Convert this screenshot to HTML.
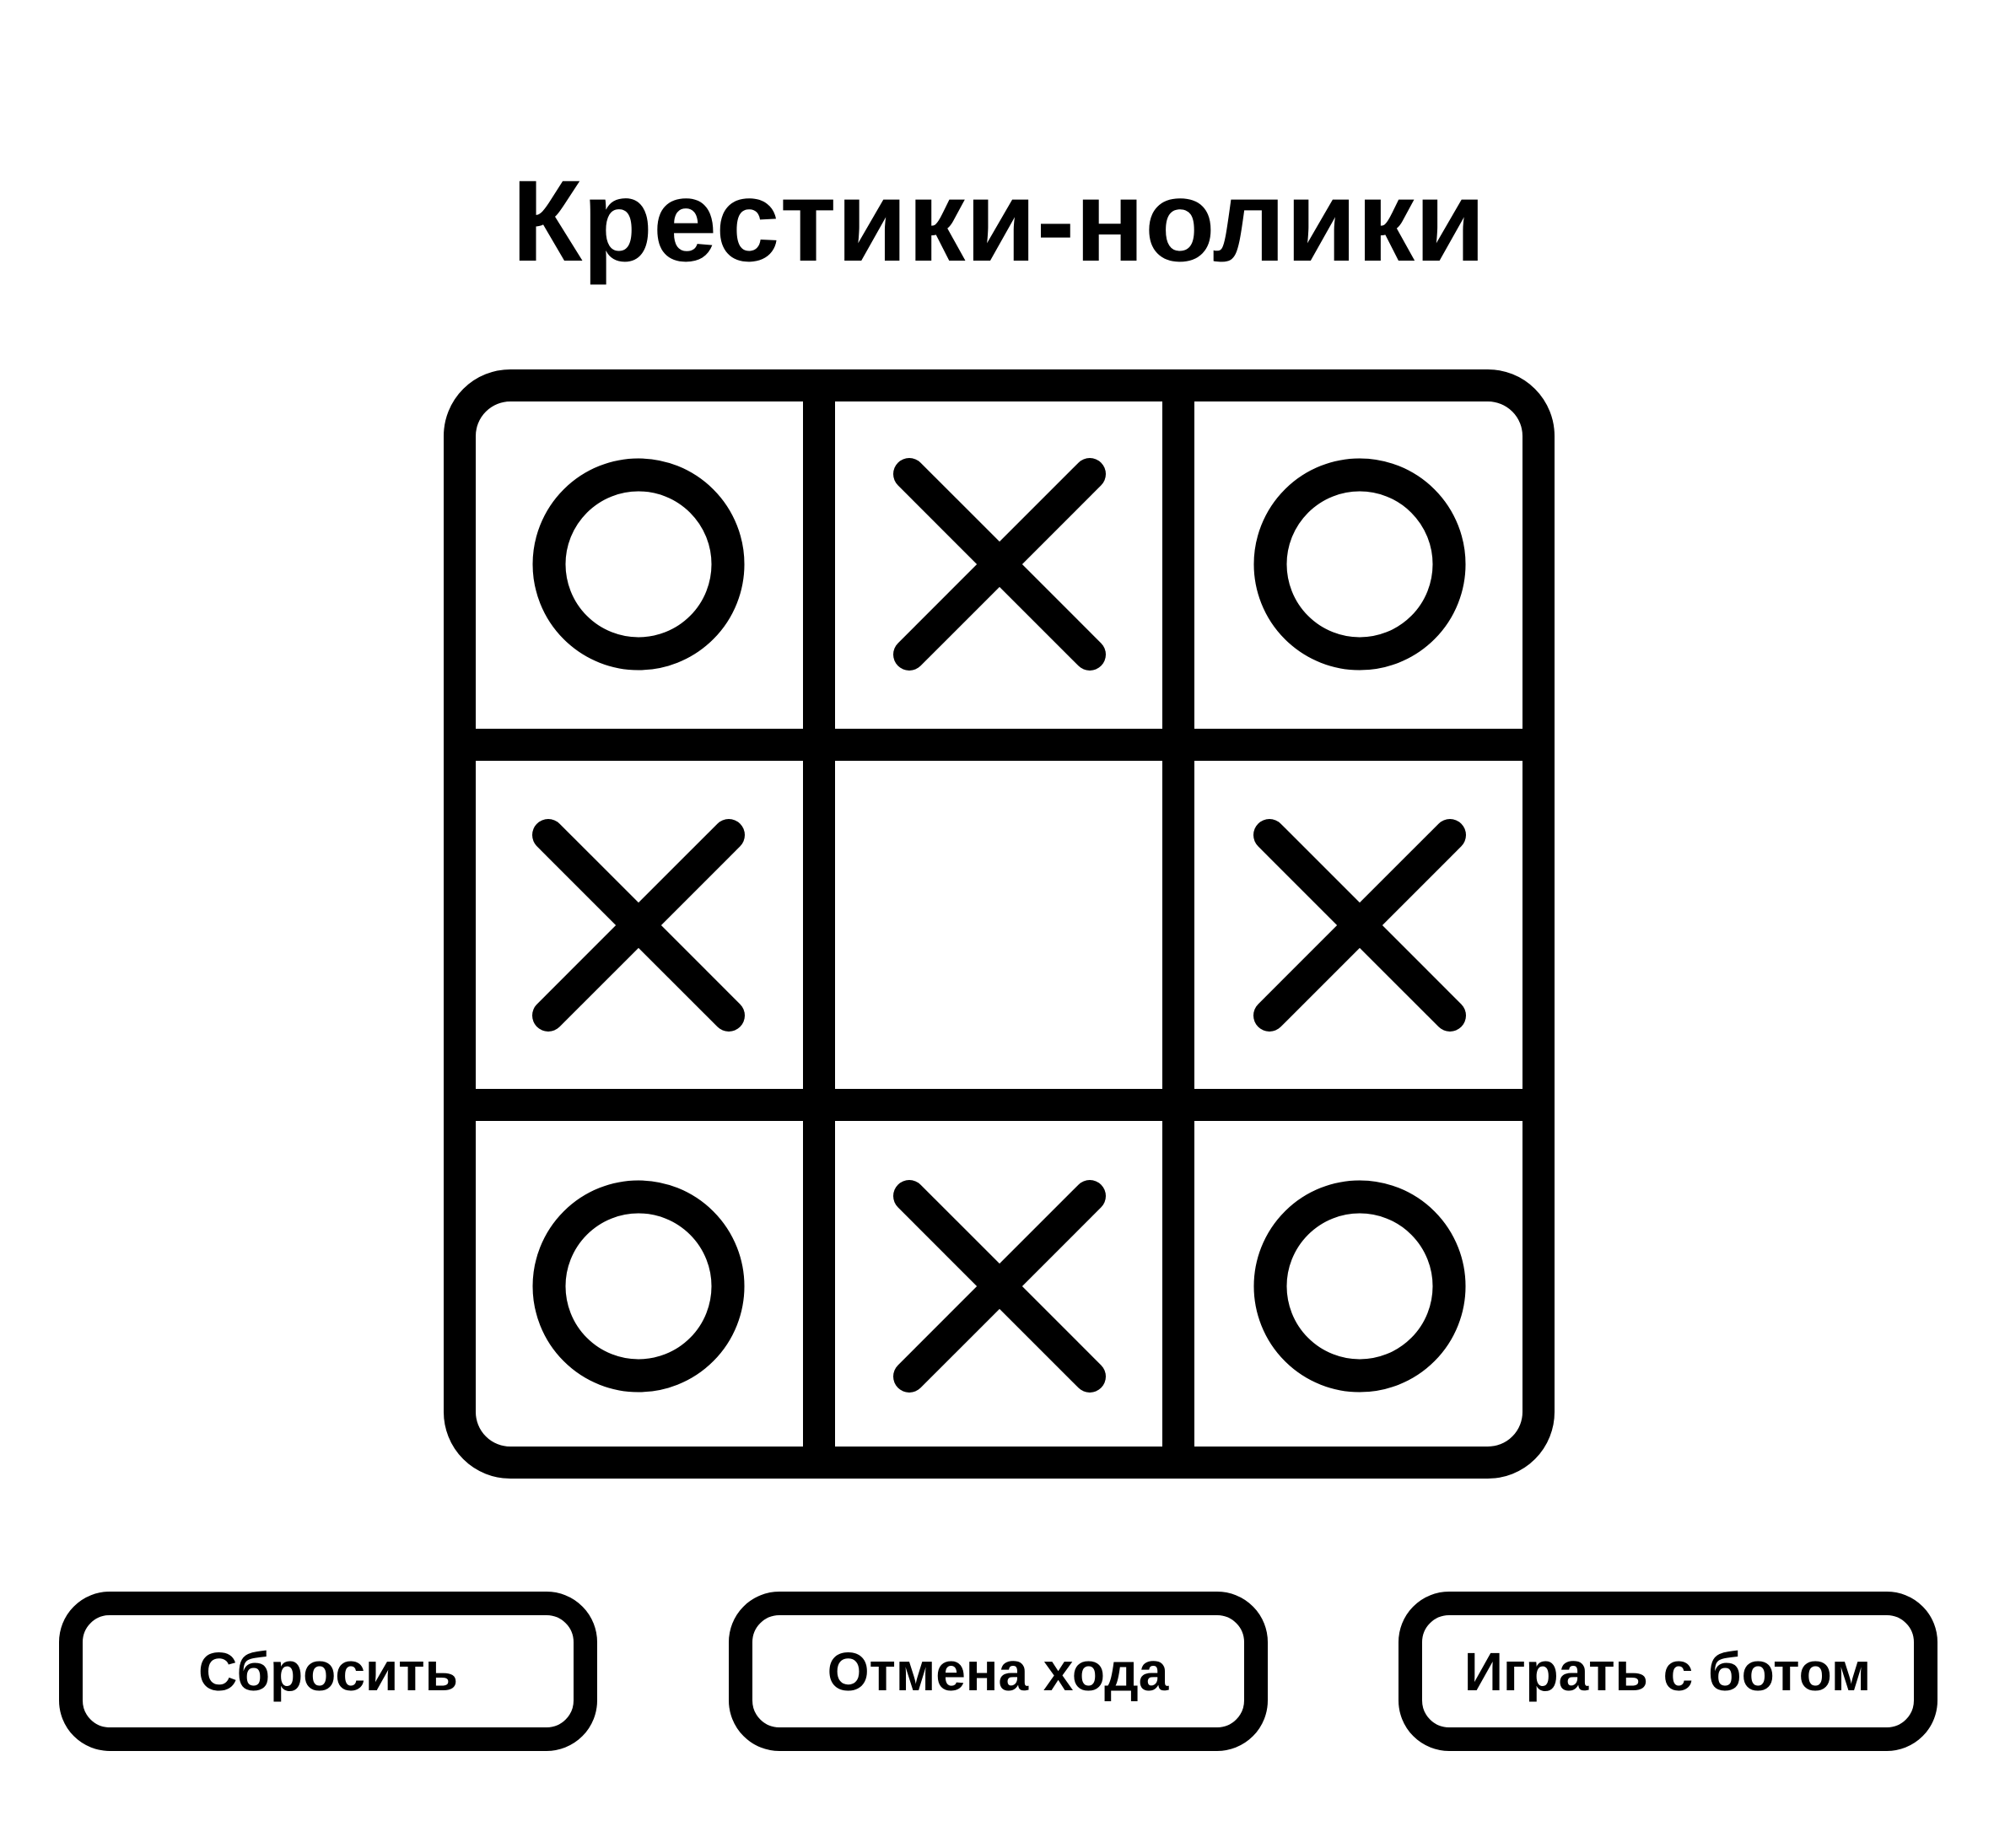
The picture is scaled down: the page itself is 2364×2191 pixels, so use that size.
<!DOCTYPE html>
<html><head><meta charset="utf-8"><style>
html,body{margin:0;padding:0;background:#fff;width:2364px;height:2191px;overflow:hidden}
svg{display:block}
text{font-family:"Liberation Sans","DejaVu Sans",sans-serif;font-weight:bold;fill:#000}
</style></head><body>
<svg width="2364" height="2191" viewBox="0 0 2364 2191">
<text x="1184" y="309" font-size="137" text-anchor="middle">Крестики-нолики</text>
<g>
<rect x="545" y="457" width="1279" height="1277" rx="60" fill="none" stroke="#000" stroke-width="38"/>
<line x1="971" y1="457" x2="971" y2="1734" stroke="#000" stroke-width="38"/>
<line x1="1397" y1="457" x2="1397" y2="1734" stroke="#000" stroke-width="38"/>
<line x1="545" y1="883" x2="1824" y2="883" stroke="#000" stroke-width="38"/>
<line x1="545" y1="1310" x2="1824" y2="1310" stroke="#000" stroke-width="38"/>
</g>
<g id="cells"></g>
<g>
<rect x="84" y="1901" width="610" height="161" rx="46" fill="#fff" stroke="#000" stroke-width="28"/>
<text x="389" y="2004" font-size="64" text-anchor="middle">Сбросить</text>
</g>
<g>
<rect x="878" y="1901" width="611" height="161" rx="46" fill="#fff" stroke="#000" stroke-width="28"/>
<text x="1183" y="2004" font-size="64" text-anchor="middle">Отмена хода</text>
</g>
<g>
<rect x="1672" y="1901" width="611" height="161" rx="46" fill="#fff" stroke="#000" stroke-width="28"/>
<text x="1977" y="2004" font-size="64" text-anchor="middle">Играть с ботом</text>
</g>
</svg>
<script>
const board = ['O','X','O','X','','X','O','X','O'];
const colCenters = [757,1185,1612];
const rowCenters = [669,1097,1525];
const NS='http://www.w3.org/2000/svg';
const g=document.getElementById('cells');
board.forEach((v,i)=>{
  const cx=colCenters[i%3], cy=rowCenters[Math.floor(i/3)];
  const cell=document.createElementNS(NS,'g');
  
  
  const hit=document.createElementNS(NS,'rect');
  hit.setAttribute('x',cx-190);hit.setAttribute('y',cy-190);hit.setAttribute('width',380);hit.setAttribute('height',380);hit.setAttribute('fill','transparent');
  cell.appendChild(hit);
  if(v==='O'){
    const c=document.createElementNS(NS,'circle');
    c.setAttribute('cx',cx);c.setAttribute('cy',cy);c.setAttribute('r',106);
    c.setAttribute('fill','none');c.setAttribute('stroke','#000');c.setAttribute('stroke-width',39);
    
    
    cell.appendChild(c);
  } else if(v==='X'){
    const d=107;
    [[-d,-d,d,d],[d,-d,-d,d]].forEach(p=>{
      const l=document.createElementNS(NS,'line');
      l.setAttribute('x1',cx+p[0]);l.setAttribute('y1',cy+p[1]);l.setAttribute('x2',cx+p[2]);l.setAttribute('y2',cy+p[3]);
      l.setAttribute('stroke','#000');l.setAttribute('stroke-width',38);l.setAttribute('stroke-linecap','round');
      
      
      cell.appendChild(l);
    });
  }
  g.appendChild(cell);
});
</script>
</body></html>
